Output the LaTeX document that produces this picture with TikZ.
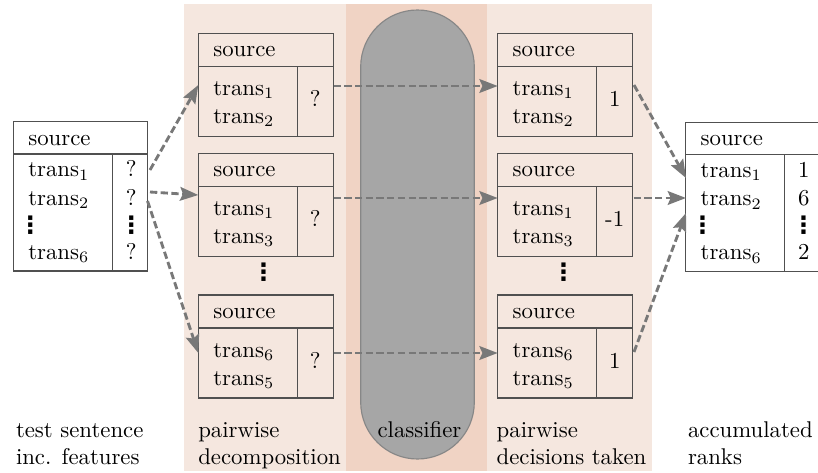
\documentclass[tikz,border=0pt]{standalone}
\usepackage{fontspec}
\newfontfamily\dotsfont{DejaVu Sans}
\usetikzlibrary{arrows.meta,calc}

\definecolor{bandlight}{RGB}{245,231,223}
\definecolor{banddark}{RGB}{240,211,196}
\definecolor{capsulefill}{RGB}{166,166,166}
\definecolor{capsuleedge}{RGB}{135,135,135}
\definecolor{boxline}{RGB}{80,80,80}
\definecolor{flowgray}{RGB}{120,120,120}

\newdimen\pxu \pxu=0.439pt

% vertical ellipsis as one glyph
\newcommand\vdotsx{{\dotsfont\fontsize{10.5}{10.5}\selectfont\bfseries ⋮}}

\tikzset{
  every node/.style={inner sep=0pt, outer sep=0pt},
  lbl/.style={anchor=base west},
  val/.style={anchor=base},
  pbox/.style={draw=boxline, line width=0.5pt, rectangle,
    minimum width=135*\pxu, minimum height=103*\pxu},
  rbox/.style={draw=boxline, line width=0.5pt, rectangle,
    minimum width=134.4*\pxu, minimum height=149.3*\pxu},
  sep/.style={draw=boxline, line width=0.5pt},
  flow/.style={draw=flowgray, line width=1.25pt, dash pattern=on 3.2pt off 1.5pt,
    -{Stealth[length=8pt,width=6pt,inset=1.3pt]}},
}

% pair box: name, left, top, first row, second row, decision
\newcommand\pairbox[6]{%
  \node[pbox, anchor=north west] (#1) at (#2,#3) {};
  \draw[sep] ($(#1.north west)+(0,33)$) -- ($(#1.north east)+(0,33)$);
  \draw[sep] ($(#1.south west)+(99,0)$) -- ($(#1.north west)+(99,33)$);
  \node[lbl] (#1-src) at ($(#1.north west)+(15,23)$) {source};
  \node[lbl] (#1-a) at ($(#1.north west)+(15,62)$) {#4};
  \node[lbl] (#1-b) at ($(#1.north west)+(15,90)$) {#5};
  \node[val] (#1-v) at ($(#1.north west)+(117,73)$) {#6};
}

% full list box: name, left, top, three values, extra options
\newcommand\listbox[7]{%
  \node[rbox, anchor=north west, #7] (#1) at (#2,#3) {};
  \draw[sep] ($(#1.north west)+(0,32.3)$) -- ($(#1.north east)+(0,32.3)$);
  \draw[sep] ($(#1.south west)+(99,0)$) -- ($(#1.north west)+(99,32.3)$);
  \node[lbl] (#1-src) at ($(#1.north west)+(15,23.3)$) {source};
  \node[lbl] (#1-a) at ($(#1.north west)+(15,55)$) {trans$_1$};
  \node[lbl] (#1-b) at ($(#1.north west)+(15,83.3)$) {trans$_2$};
  \node (#1-d) at ($(#1.north west)+(17,103.3)$) {\vdotsx};
  \node[lbl] (#1-c) at ($(#1.north west)+(15,137.3)$) {trans$_6$};
  \node[val] (#1-va) at ($(#1.north west)+(118,55)$) {#4};
  \node[val] (#1-vb) at ($(#1.north west)+(118,83.3)$) {#5};
  \node (#1-vd) at ($(#1.north west)+(118,103.3)$) {\vdotsx};
  \node[val] (#1-vc) at ($(#1.north west)+(118,137.3)$) {#6};
}

\begin{document}
\begin{tikzpicture}[x=\pxu, y=-\pxu]
\useasboundingbox (0,0) rectangle (818,473);
\clip (0,0) rectangle (818,473);

% stage bands
\fill[bandlight] (184,4) rectangle (346,471);
\fill[banddark] (346,4) rectangle (487,471);
\fill[bandlight] (487,4) rectangle (652,471);

% classifier capsule
\node[draw=capsuleedge, fill=capsulefill, line width=0.5pt,
  minimum width=113.6*\pxu, minimum height=449*\pxu,
  rounded corners=56.8*\pxu] (clf) at (417.5,234.5) {};

% input sentence
\listbox{L}{13.3}{121.7}{?}{?}{?}{}

% pairwise decomposition
\pairbox{M1}{198.3}{33.3}{trans$_1$}{trans$_2$}{?}
\pairbox{M2}{198.3}{153.3}{trans$_1$}{trans$_3$}{?}
\pairbox{M3}{198.3}{295}{trans$_6$}{trans$_5$}{?}
\node (Mdots) at (263.5,272) {\vdotsx};

% pairwise decisions
\pairbox{R1}{497.7}{33.3}{trans$_1$}{trans$_2$}{1}
\pairbox{R2}{497.7}{153.3}{trans$_1$}{trans$_3$}{-1}
\pairbox{R3}{497.7}{295}{trans$_6$}{trans$_5$}{1}
\node (Rdots) at (563.5,272) {\vdotsx};

% accumulated ranks
\listbox{F}{685.7}{122.3}{1}{6}{2}{minimum width=140*\pxu}

% connector end points
\coordinate (L-o1) at (150,170);
\coordinate (L-o2) at (150,192);
\coordinate (L-o3) at (147.5,201);
\coordinate (M1-i) at (198.3,85);
\coordinate (M2-i) at (198.3,195);
\coordinate (M3-i) at (198.3,353);
\coordinate (M1-o) at (333.6,86);
\coordinate (M2-o) at (333.6,198);
\coordinate (M3-o) at (333.6,353);
\coordinate (R1-i) at (497.7,86);
\coordinate (R2-i) at (497.7,198);
\coordinate (R3-i) at (497.7,353);
\coordinate (R1-o) at (634,85);
\coordinate (R2-o) at (633.6,198);
\coordinate (R3-o) at (634,352);
\coordinate (F-i1) at (686,178);
\coordinate (F-i2) at (686,198);
\coordinate (F-i3) at (686,213);

% flows
\draw[flow] (L-o1) -- (M1-i);
\draw[flow] (L-o2) -- (M2-i);
\draw[flow] (L-o3) -- (M3-i);
\draw[flow] (M1-o) -- (R1-i);
\draw[flow] (M2-o) -- (R2-i);
\draw[flow] (M3-o) -- (R3-i);
\draw[flow] (R1-o) -- (F-i1);
\draw[flow] (R2-o) -- (F-i2);
\draw[flow] (R3-o) -- (F-i3);

% stage captions
\node[lbl] (cap1a) at (16,437) {test sentence};
\node[lbl] (cap1b) at (16,464) {inc. features};
\node[lbl] (cap2a) at (198.3,437) {pairwise};
\node[lbl] (cap2b) at (198.3,464) {decomposition};
\node[val] (cap3) at (419.5,437) {classifier};
\node[lbl] (cap4a) at (496.7,437) {pairwise};
\node[lbl] (cap4b) at (496.7,464) {decisions taken};
\node[lbl] (cap5a) at (688,437) {accumulated};
\node[lbl] (cap5b) at (688,464) {ranks};
\end{tikzpicture}
\end{document}
